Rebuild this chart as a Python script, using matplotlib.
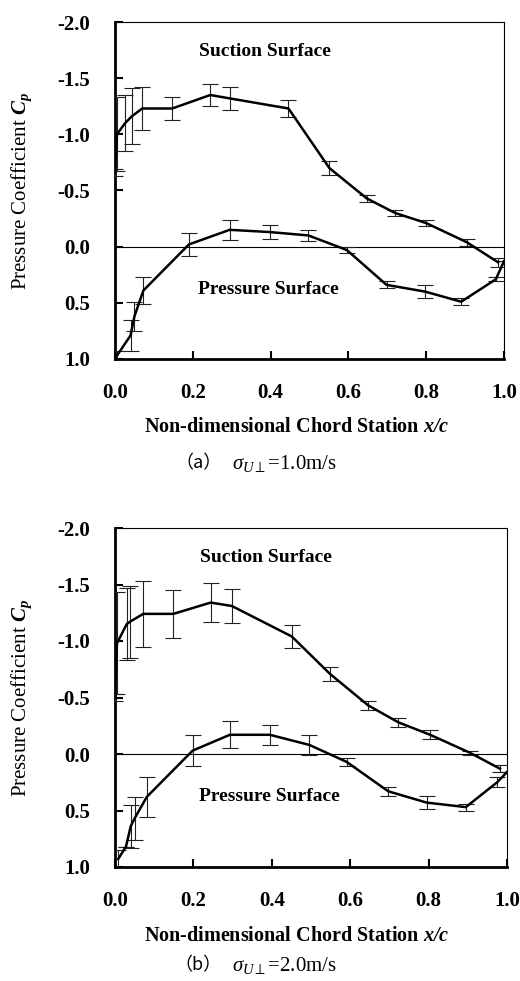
import matplotlib
matplotlib.use("Agg")
import matplotlib.pyplot as plt

# ---- data ----
# (a) sigma = 1.0 m/s
suction_x_a = [0.0, 0.005, 0.026, 0.043, 0.07, 0.147, 0.245, 0.295, 0.446, 0.551, 0.647, 0.72, 0.80, 0.904, 0.985]
suction_cp_a = [-0.66, -1.0, -1.10, -1.16, -1.23, -1.23, -1.35, -1.32, -1.23, -0.70, -0.43, -0.30, -0.21, -0.04, 0.14]
suction_err_a = [0.03, 0.33, 0.25, 0.25, 0.19, 0.10, 0.10, 0.10, 0.08, 0.06, 0.03, 0.03, 0.03, 0.03, 0.04]

pressure_x_a = [0.005, 0.04, 0.05, 0.073, 0.19, 0.295, 0.398, 0.497, 0.596, 0.698, 0.797, 0.89, 0.979, 1.0]
pressure_cp_a = [0.97, 0.79, 0.62, 0.39, -0.02, -0.15, -0.13, -0.10, 0.03, 0.34, 0.40, 0.49, 0.29, 0.13]
pressure_err_a = [0.04, 0.14, 0.13, 0.12, 0.10, 0.09, 0.06, 0.05, 0.03, 0.03, 0.06, 0.03, 0.02, 0.0]

# (b) sigma = 2.0 m/s
suction_x_b = [0.0, 0.005, 0.03, 0.038, 0.072, 0.149, 0.244, 0.298, 0.451, 0.548, 0.646, 0.723, 0.804, 0.906, 0.982]
suction_cp_b = [-0.5, -0.98, -1.15, -1.17, -1.24, -1.24, -1.34, -1.31, -1.04, -0.71, -0.43, -0.28, -0.17, -0.01, 0.13]
suction_err_b = [0.03, 0.45, 0.32, 0.32, 0.29, 0.21, 0.17, 0.15, 0.10, 0.06, 0.04, 0.04, 0.04, 0.02, 0.03]

pressure_x_b = [0.008, 0.028, 0.04, 0.05, 0.081, 0.198, 0.293, 0.395, 0.496, 0.591, 0.697, 0.795, 0.895, 0.975, 1.0]
pressure_cp_b = [0.93, 0.82, 0.64, 0.57, 0.38, -0.03, -0.17, -0.17, -0.08, 0.07, 0.33, 0.43, 0.47, 0.25, 0.16]
pressure_err_b = [0.08, 0.0, 0.19, 0.19, 0.18, 0.14, 0.12, 0.09, 0.085, 0.035, 0.04, 0.06, 0.03, 0.045, 0.0]

x_ticks = [0.0, 0.2, 0.4, 0.6, 0.8, 1.0]
x_tick_labels = ["0.0", "0.2", "0.4", "0.6", "0.8", "1.0"]
y_ticks = [-2.0, -1.5, -1.0, -0.5, 0.0, 0.5, 1.0]
y_tick_labels = ["-2.0", "-1.5", "-1.0", "-0.5", "0.0", "0.5", "1.0"]

caption_tags = ["（a）", "（b）"]
caption_texts = [r"$\sigma_{U\perp}$=1.0m/s", r"$\sigma_{U\perp}$=2.0m/s"]

plt.rcParams['font.family'] = ['Liberation Serif', 'Noto Sans CJK SC', 'DejaVu Sans']
plt.rcParams['mathtext.fontset'] = 'custom'
plt.rcParams['mathtext.rm'] = 'Liberation Serif'
plt.rcParams['mathtext.it'] = 'Liberation Serif:italic'
plt.rcParams['mathtext.bf'] = 'Liberation Serif:bold'
plt.rcParams['mathtext.bfit'] = 'Liberation Serif:italic:bold'

W, H = 520, 981
fig = plt.figure(figsize=(W / 100, H / 100), dpi=100)

# axes boxes in pixels: left, top, right, bottom
boxes = [(115, 22, 504, 359), (115, 528, 507, 867)]
panels = [
    (suction_x_a, suction_cp_a, suction_err_a, pressure_x_a, pressure_cp_a, pressure_err_a),
    (suction_x_b, suction_cp_b, suction_err_b, pressure_x_b, pressure_cp_b, pressure_err_b),
]
xlabel_y = [427, 936]
caption_y = [463, 965]

for i, (box, data) in enumerate(zip(boxes, panels)):
    l, t, r, b = box
    ax = fig.add_axes([l / W, 1 - b / H, (r - l) / W, (b - t) / H])
    sx, scp, serr, px, pcp, perr = data

    ax.axhline(0.0, color='black', lw=0.8, zorder=1)
    for xs, cps, errs in [(sx, scp, serr), (px, pcp, perr)]:
        ax.errorbar(xs, cps, yerr=errs, color='black', lw=1.8,
                    ecolor='#222222', elinewidth=0.8, capsize=6, capthick=0.8,
                    zorder=3)

    ax.set_xlim(0.0, 1.0)
    ax.set_ylim(1.0, -2.0)
    ax.set_xticks(x_ticks)
    ax.set_xticklabels(x_tick_labels, fontsize=15, fontweight='bold')
    ax.set_yticks(y_ticks)
    ax.set_yticklabels(y_tick_labels, fontsize=15, fontweight='bold')
    ax.tick_params(axis='x', direction='in', length=6, width=1.5, pad=17)
    ax.tick_params(axis='y', direction='in', length=6, width=1.5, pad=18)

    for side in ['left', 'bottom']:
        ax.spines[side].set_linewidth(2.0)
    for side in ['top', 'right']:
        ax.spines[side].set_linewidth(0.8)

    ax.text(0.385, -1.74, "Suction Surface", fontsize=14, fontweight='bold',
            ha='center', va='center')
    ax.text(0.394, 0.38, "Pressure Surface", fontsize=14, fontweight='bold',
            ha='center', va='center')

    fig.text(22 / W, 1 - ((t + b) / 2) / H, r"Pressure Coefficient $\mathbfit{C_p}$",
             rotation=90, fontsize=15, ha='center', va='center')
    fig.text(297 / W, 1 - xlabel_y[i] / H,
             r"Non-dimensional Chord Station $\mathbfit{x/c}$",
             fontsize=14.5, fontweight='bold', ha='center', va='center')
    fig.text(222 / W, 1 - caption_y[i] / H, caption_tags[i],
             family=['Noto Sans CJK SC', 'DejaVu Sans'], fontsize=13,
             ha='right', va='center')
    fig.text(232 / W, 1 - caption_y[i] / H, caption_texts[i],
             fontsize=15, ha='left', va='center')

fig.savefig("out.png", dpi=100)
